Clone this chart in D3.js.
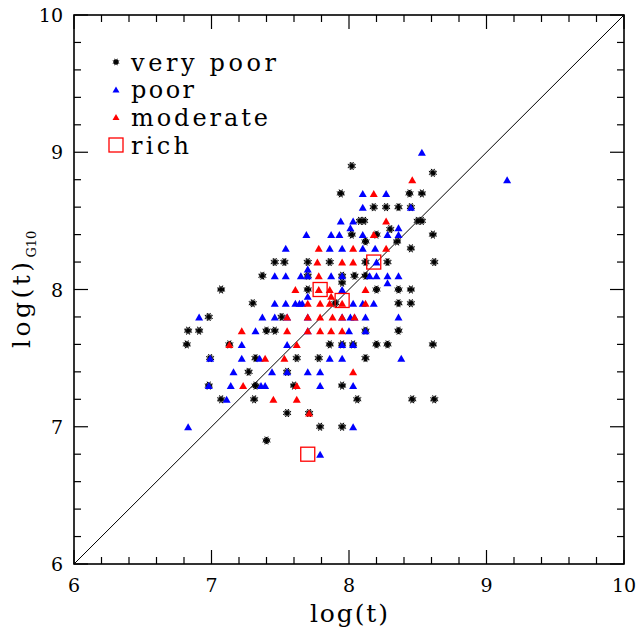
<!DOCTYPE html>
<html>
<head>
<meta charset="utf-8">
<script src="https://cdn.jsdelivr.net/npm/d3@7"></script>
<style>
  body { margin: 0; background: #fff; }
</style>
</head>
<body>
<svg id="chart" width="639" height="644" font-family="'DejaVu Serif', 'Liberation Serif', serif"></svg>
<script>
// Age estimates: log(t) from the fit vs. log(t) from G10, grouped by cluster richness
const veryPoor = [
  [8.02,8.9],[8.61,8.85],
  [7.94,8.7],[8.44,8.7],[8.53,8.7],
  [8.18,8.6],[8.27,8.6],[8.36,8.6],[8.45,8.6],
  [8.08,8.5],[8.11,8.5],[8.50,8.5],[8.53,8.5],
  [8.30,8.44],
  [8.02,8.4],[8.20,8.4],[8.61,8.4],
  [8.12,8.35],[8.35,8.35],
  [8.45,8.3],
  [7.46,8.2],[7.53,8.2],[7.70,8.2],[7.86,8.2],[8.12,8.2],[8.28,8.2],[8.62,8.2],
  [7.37,8.1],[7.70,8.1],[7.95,8.1],[8.04,8.1],[8.12,8.1],
  [7.95,8.05],
  [7.07,8.0],[7.70,8.0],[8.20,8.0],[8.36,8.0],[8.45,8.0],
  [7.30,7.9],[7.90,7.9],[8.36,7.9],[8.45,7.9],
  [6.98,7.8],[7.51,7.8],
  [6.83,7.7],[6.91,7.7],[7.40,7.7],[7.46,7.7],[8.12,7.7],[8.36,7.7],
  [6.82,7.6],[7.13,7.6],[7.86,7.6],[7.95,7.6],[8.03,7.6],[8.20,7.6],[8.28,7.6],[8.61,7.6],
  [6.99,7.5],[7.32,7.5],[7.62,7.5],[7.78,7.5],[8.12,7.5],
  [7.27,7.4],[7.55,7.4],
  [6.98,7.3],[7.32,7.3],[7.60,7.3],[7.95,7.3],
  [7.07,7.2],[7.31,7.2],[8.06,7.2],[8.46,7.2],[8.62,7.2],
  [7.55,7.1],[7.71,7.1],
  [7.79,7.0],[7.95,7.0],
  [7.40,6.9]
];
const poor = [
  [8.53,9.0],[9.15,8.8],
  [8.10,8.7],[8.27,8.7],
  [8.10,8.6],[8.45,8.6],
  [7.94,8.5],[8.03,8.5],
  [8.01,8.45],[8.36,8.45],
  [7.69,8.4],[7.87,8.4],[7.93,8.4],[8.10,8.4],[8.28,8.4],[8.36,8.4],
  [7.54,8.3],[7.86,8.3],[7.95,8.3],[8.10,8.3],[8.19,8.3],
  [8.20,8.2],
  [7.70,8.15],
  [7.46,8.1],[7.54,8.1],[7.65,8.1],[7.70,8.1],[7.87,8.1],[7.95,8.1],[8.15,8.1],[8.20,8.1],[8.28,8.1],[8.36,8.1],
  [8.28,8.05],
  [7.95,8.0],
  [7.70,7.95],
  [7.46,7.9],[7.54,7.9],[7.61,7.9],[7.64,7.9],[7.66,7.9],[8.03,7.9],[8.10,7.9],[8.18,7.9],
  [6.91,7.8],[7.37,7.8],[7.46,7.8],[7.55,7.8],[7.70,7.8],[7.95,7.8],[8.01,7.8],[8.04,7.8],[8.12,7.8],[8.36,7.8],
  [7.32,7.7],[7.70,7.7],[8.00,7.7],[8.12,7.7],
  [7.22,7.6],[7.55,7.6],[7.95,7.6],[8.03,7.6],
  [6.99,7.5],[7.22,7.5],[7.35,7.5],[7.86,7.5],[7.95,7.5],[8.38,7.5],
  [7.16,7.4],[7.44,7.4],[7.55,7.4],[7.70,7.4],[7.79,7.4],
  [6.98,7.3],[7.14,7.3],[7.36,7.3],[7.39,7.3],[7.79,7.3],[8.03,7.3],
  [7.11,7.2],
  [6.83,7.0],[8.03,7.0],
  [7.79,6.8]
];
const moderate = [
  [8.46,8.8],[8.18,8.7],[8.27,8.5],[8.18,8.4],
  [7.78,8.3],[8.03,8.3],[8.27,8.3],
  [7.77,8.2],[7.95,8.2],[8.03,8.2],
  [7.78,8.1],
  [7.61,8.0],[7.78,8.0],[7.86,8.0],[8.12,8.0],
  [7.87,7.95],
  [7.70,7.9],[7.79,7.9],[7.86,7.9],[7.95,7.9],[8.12,7.9],
  [7.55,7.8],[7.70,7.8],[7.79,7.8],[7.88,7.8],[7.95,7.8],[8.04,7.8],
  [7.22,7.7],[7.55,7.7],[7.70,7.7],[7.79,7.7],[7.87,7.7],[7.95,7.7],
  [7.13,7.6],[7.62,7.6],
  [7.39,7.5],[7.53,7.5],
  [8.03,7.4],
  [7.23,7.3],[7.62,7.3],
  [7.45,7.2],[7.62,7.2],
  [7.71,7.1]
];
const rich = [[7.79,8.0],[7.95,7.92],[8.18,8.2],[7.70,6.8]];

const xDomain = [6, 10];
const yDomain = [6, 10];
const xTickLabels = [6, 7, 8, 9, 10];
const yTickLabels = [6, 7, 8, 9, 10];
const legendLabels = ["very poor", "poor", "moderate", "rich"];

const svg = d3.select("#chart");
const plotLeft = 74, plotRight = 624, plotTop = 15, plotBottom = 564;

const x = d3.scaleLinear().domain(xDomain).range([plotLeft, plotRight]);
const y = d3.scaleLinear().domain(yDomain).range([plotBottom, plotTop]);

// marker painters
const starPath = (r) => {
  let p = "";
  for (let k = 0; k < 4; k++) {
    const a = k * Math.PI / 4 + Math.PI / 8;
    const dx = r * Math.cos(a), dy = r * Math.sin(a);
    p += `M${-dx},${-dy}L${dx},${dy}`;
  }
  for (let k = 0; k < 4; k++) {
    const a = k * Math.PI / 4;
    const dx = r * 0.8 * Math.cos(a), dy = r * 0.8 * Math.sin(a);
    p += `M${-dx},${-dy}L${dx},${dy}`;
  }
  return p;
};
function drawStar(g, cx, cy, r) {
  const s = g.append("g").attr("transform", `translate(${cx},${cy})`);
  s.append("path").attr("d", starPath(r)).attr("stroke", "#000").attr("stroke-width", 1).attr("fill", "none");
  s.append("circle").attr("r", r * 0.42).attr("fill", "#000");
}
const triPath = (w, h) => `M0,${-h / 2}L${w / 2},${h / 2}L${-w / 2},${h / 2}Z`;

// diagonal one-to-one line
svg.append("line")
  .attr("x1", x(6)).attr("y1", y(6)).attr("x2", x(10)).attr("y2", y(10))
  .attr("stroke", "#000").attr("stroke-width", 1);

const pts = svg.append("g");
veryPoor.forEach(d => drawStar(pts, x(d[0]), y(d[1]), 4.3));
pts.selectAll("path.poor").data(poor).join("path")
  .attr("class", "poor")
  .attr("d", triPath(8, 7))
  .attr("transform", d => `translate(${x(d[0])},${y(d[1])})`)
  .attr("fill", "#0000ff");
pts.selectAll("path.moderate").data(moderate).join("path")
  .attr("class", "moderate")
  .attr("d", triPath(8, 7))
  .attr("transform", d => `translate(${x(d[0])},${y(d[1])})`)
  .attr("fill", "#ff0000");
pts.selectAll("rect.rich").data(rich).join("rect")
  .attr("class", "rich")
  .attr("x", d => x(d[0]) - 7).attr("y", d => y(d[1]) - 7)
  .attr("width", 14).attr("height", 14)
  .attr("fill", "none").attr("stroke", "#ff0000").attr("stroke-width", 1.3);

// frame and inward ticks on all sides
const axes = svg.append("g").attr("stroke", "#000");
axes.append("rect").attr("x", plotLeft).attr("y", plotTop)
  .attr("width", plotRight - plotLeft).attr("height", plotBottom - plotTop)
  .attr("fill", "none").attr("stroke-width", 1.6);

const minor = d3.range(6, 10.0001, 0.2).map(v => +v.toFixed(1));
minor.forEach(v => {
  const major = Math.abs(v - Math.round(v)) < 1e-6;
  const len = major ? 14 : 7;
  axes.append("line").attr("x1", x(v)).attr("x2", x(v)).attr("y1", plotBottom).attr("y2", plotBottom - len).attr("stroke-width", 1.2);
  axes.append("line").attr("x1", x(v)).attr("x2", x(v)).attr("y1", plotTop).attr("y2", plotTop + len).attr("stroke-width", 1.2);
  axes.append("line").attr("y1", y(v)).attr("y2", y(v)).attr("x1", plotLeft).attr("x2", plotLeft + len).attr("stroke-width", 1.2);
  axes.append("line").attr("y1", y(v)).attr("y2", y(v)).attr("x1", plotRight).attr("x2", plotRight - len).attr("stroke-width", 1.2);
});

// tick labels
svg.append("g").selectAll("text").data(xTickLabels).join("text")
  .attr("x", d => x(d)).attr("y", plotBottom + 28)
  .attr("text-anchor", "middle").attr("font-size", 19)
  .text(d => d);
svg.append("g").selectAll("text").data(yTickLabels).join("text")
  .attr("x", plotLeft - 11).attr("y", d => y(d) + 7)
  .attr("text-anchor", "end").attr("font-size", 19)
  .text(d => d);

// axis titles
svg.append("text")
  .attr("x", (plotLeft + plotRight) / 2).attr("y", 622)
  .attr("text-anchor", "middle").attr("font-size", 25)
  .attr("textLength", 78).attr("lengthAdjust", "spacing")
  .text("log(t)");

const yt = svg.append("text")
  .attr("transform", `translate(30,348) rotate(-90)`)
  .attr("font-size", 25);
yt.append("tspan").text("log(t)").attr("textLength", 86).attr("lengthAdjust", "spacing");
yt.append("tspan").attr("dy", 6).attr("dx", 1).attr("font-size", 13).text("G10");

// legend
const lg = svg.append("g");
const rowY = [62, 89.5, 117, 145];
const legendWidths = [145, 63, 137, 58];
legendLabels.forEach((lab, i) => {
  const cy = rowY[i];
  if (i === 0) drawStar(lg, 116, cy, 3.5);
  else if (i < 3) lg.append("path").attr("d", triPath(7, 6)).attr("transform", `translate(116,${cy})`)
    .attr("fill", i === 1 ? "#0000ff" : "#ff0000");
  else lg.append("rect").attr("x", 109).attr("y", cy - 7).attr("width", 14).attr("height", 14)
    .attr("fill", "none").attr("stroke", "#ff0000").attr("stroke-width", 1.3);
  lg.append("text").attr("x", 131).attr("y", cy + 8.5).attr("font-size", 24)
    .attr("textLength", legendWidths[i]).attr("lengthAdjust", "spacing")
    .text(lab);
});
</script>
</body>
</html>
